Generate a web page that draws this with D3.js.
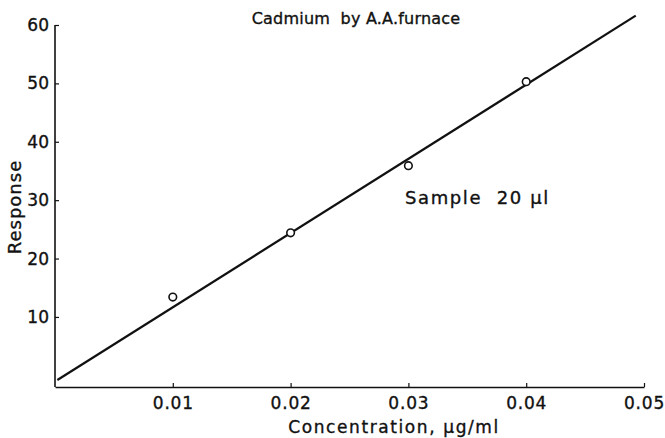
<!DOCTYPE html>
<html>
<head>
<meta charset="utf-8">
<script src="https://cdn.jsdelivr.net/npm/d3@7"></script>
<style>
  body { margin: 0; background: #fff; }
  text { font-family: "DejaVu Sans", sans-serif; fill: #111; stroke: #111; stroke-width: 0.35px; white-space: pre; }
</style>
</head>
<body>
<div id="chart-holder"></div>
<script>
// ****DATA****
const concentration = [0.01, 0.02, 0.03, 0.04];
const response = [13.4, 24.4, 35.9, 50.3];
// fitted calibration line, two end points
const fitX = [0.0002, 0.0493];
const fitY = [-0.8, 61.6];
const xTicks = [0.01, 0.02, 0.03, 0.04, 0.05];
const xTickLabels = ['0.01', '0.02', '0.03', '0.04', '0.05'];
const yTicks = [10, 20, 30, 40, 50, 60];

// ****SVG CANVAS****
const width = 665;
const height = 438;
const paddingLeft = 55;
const paddingRight = 21;
const paddingTop = 25;
const paddingBottom = 51;
const graphWidth = width - (paddingLeft + paddingRight);
const graphHeight = height - (paddingTop + paddingBottom);

const svg = d3.select('#chart-holder')
    .append('svg')
    .attr('width', width)
    .attr('height', height);

// ****SCALES****
const xScale = d3.scaleLinear()
    .domain([0, 0.05])
    .range([0, graphWidth]);
const yScale = d3.scaleLinear()
    .domain([-2, 60])
    .range([graphHeight, 0]);

const graphGroup = svg.append('g')
    .attr('transform', `translate(${paddingLeft}, ${paddingTop})`);

// x axis, ticks point inwards
const xAxis = graphGroup.append('g')
    .attr('transform', `translate(0, ${graphHeight})`)
    .call(d3.axisBottom(xScale)
        .tickValues(xTicks)
        .tickFormat((d, i) => xTickLabels[i])
        .tickSize(-4)
        .tickPadding(10)
        .tickSizeOuter(0));
xAxis.select('.domain').attr('stroke', '#111').attr('stroke-width', 1.6);
xAxis.selectAll('.tick line').attr('stroke', '#111').attr('stroke-width', 1.2);
xAxis.selectAll('.tick text')
    .style('font-size', '17px')
    .style('letter-spacing', '0.8px');

// y axis
const yAxis = graphGroup.append('g')
    .call(d3.axisLeft(yScale)
        .tickValues(yTicks)
        .tickSize(-4)
        .tickPadding(6)
        .tickSizeOuter(0));
yAxis.select('.domain')
    .attr('stroke', '#111').attr('stroke-width', 1.6)
    .attr('d', `M0,${graphHeight}V${yScale(60)}`);
yAxis.selectAll('.tick line').attr('stroke', '#111').attr('stroke-width', 1.2);
yAxis.selectAll('.tick text').style('font-size', '17px');

// ****PLOT****
const fitLine = d3.line()
    .x(d => xScale(d[0]))
    .y(d => yScale(d[1]));
graphGroup.append('path')
    .datum(d3.zip(fitX, fitY))
    .attr('fill', 'none')
    .attr('stroke', '#111')
    .attr('stroke-width', 2.2)
    .attr('d', fitLine);

graphGroup.selectAll('circle.pt')
    .data(d3.zip(concentration, response))
    .enter()
    .append('circle')
    .attr('class', 'pt')
    .attr('cx', d => xScale(d[0]))
    .attr('cy', d => yScale(d[1]))
    .attr('r', 3.8)
    .attr('fill', '#fff')
    .attr('stroke', '#111')
    .attr('stroke-width', 1.6);

// ****TEXT****
svg.append('text')
    .attr('x', 356)
    .attr('y', 24)
    .attr('text-anchor', 'middle')
    .style('font-size', '16px')
    .style('letter-spacing', '0.2px')
    .text('Cadmium  by A.A.furnace');

svg.append('text')
    .attr('x', 394)
    .attr('y', 433)
    .attr('text-anchor', 'middle')
    .style('font-size', '17px')
    .style('letter-spacing', '1.6px')
    .text('Concentration, μg/ml');

svg.append('text')
    .attr('transform', 'rotate(-90)')
    .attr('x', -207)
    .attr('y', 21)
    .attr('text-anchor', 'middle')
    .style('font-size', '18px')
    .style('letter-spacing', '1px')
    .text('Response');

svg.append('text')
    .attr('x', 405)
    .attr('y', 204)
    .style('font-size', '18px')
    .style('letter-spacing', '1.6px')
    .text('Sample  20 μl');
</script>
</body>
</html>
